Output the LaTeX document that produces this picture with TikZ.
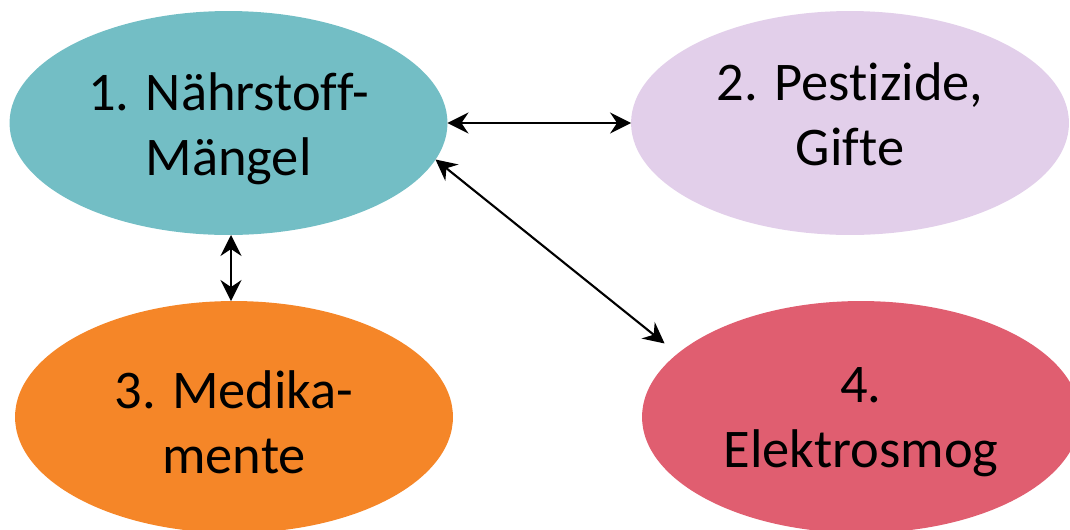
\documentclass[tikz,border=0pt]{standalone}
\usepackage{fontspec}
\setmainfont{Carlito}[Ligatures=NoCommon]
\usepackage{tikz}
\usetikzlibrary{shapes.geometric,arrows.meta}

\definecolor{tealblob}{RGB}{115,190,197}
\definecolor{lilacblob}{RGB}{226,207,234}
\definecolor{orangeblob}{RGB}{245,134,40}
\definecolor{redblob}{RGB}{224,94,112}

\begin{document}
\begin{tikzpicture}[x=0.02cm,y=-0.02cm,
	blob/.style={ellipse,draw=none,inner sep=0pt,outer sep=0pt,minimum width=8.76cm},
	blobtext/.style={align=center,inner sep=0pt,font=\fontsize{31}{37}\selectfont},
	both/.style={line width=1.2pt,{Stealth[length=4.2mm,width=4.2mm,inset=1.4mm]}-{Stealth[length=4.2mm,width=4.2mm,inset=1.4mm]}}]
			\useasboundingbox (0,0) rectangle (1070,529);
			\clip (0,0) rectangle (1070,529);
			\node[blob,fill=tealblob,minimum height=4.48cm] (e1) at (228.5,123) {};
			\node[blob,fill=lilacblob,minimum height=4.48cm] (e2) at (850,123) {};
			\node[blob,fill=orangeblob,minimum height=4.64cm] (e3) at (234,417) {};
			\node[blob,fill=redblob,minimum height=4.64cm] (e4) at (861,417) {};
	
			\node[blobtext] (t1) at ([yshift=-3pt]e1) {1. Nährstoff-\\Mängel};
			\node[blobtext] (t2) at ([yshift=5pt]e2) {2. Pestizide,\\Gifte};
			\node[blobtext] (t3) at ([yshift=-3pt]e3) {3. Medika-\\mente};
			\node[blobtext] (t4) at ([yshift=-3pt]e4) {4.\\Elektrosmog};
	
			\coordinate (mid13) at (231,270);
			\draw[both] (e1.east) -- (e2.west);
			\draw[both] (e1.south -| mid13) -- (e3.north -| mid13);
			\draw[both,shorten >=0.33cm] (e1.-10.7) -- (e4.161.6);
		\end{tikzpicture}
\end{document}
